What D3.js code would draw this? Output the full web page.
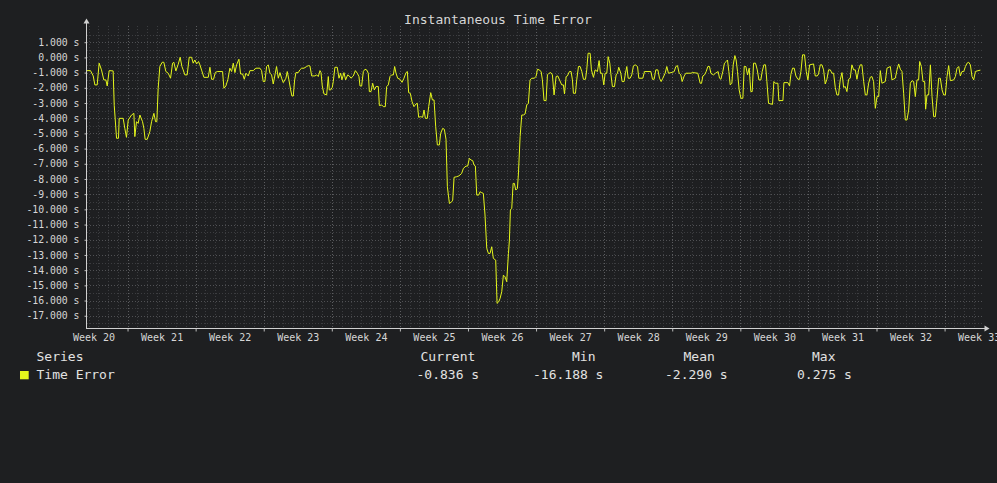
<!DOCTYPE html>
<html>
<head>
<meta charset="utf-8">
<script src="https://cdn.jsdelivr.net/npm/d3@7"></script>
<style>
  html, body { margin: 0; padding: 0; background: #1e1f21; }
  svg { display: block; font-family: "DejaVu Sans Mono", monospace; }
</style>
</head>
<body>
<svg id="chart" width="997" height="483"></svg>
<script>
const chartTitle = 'Instantaneous Time Error';
const seriesName = 'Time Error';
const weekNumbers = d3.range(20, 34);          // Week 20 .. Week 33
const yTickValues = d3.range(-17, 2);          // -17 s .. 1 s
const legendHeaders = ['Current', 'Min', 'Mean', 'Max'];
const legendValues = [-0.836, -16.188, -2.290, 0.275];

// [day since start of week 20, time error in s]
const timeError = [
  [2.78,-0.87],[3.19,-0.87],[3.47,-1.22],[3.64,-1.81],[3.88,-1.81],[4.08,-0.38],[4.32,-0.82],
  [4.56,-1.48],[4.77,-1.48],[4.91,-1.88],[5.11,-0.87],[5.52,-0.89],[5.63,-3.15],[5.87,-5.32],
  [6.07,-5.32],[6.14,-4.01],[6.55,-4.01],[6.72,-4.67],[6.89,-5.26],[7.07,-4.12],[7.41,-3.79],
  [7.65,-3.68],[7.75,-5.21],[7.92,-4.23],[8.09,-4.34],[8.27,-3.79],[8.54,-4.23],[8.68,-4.67],
  [8.81,-5.39],[9.02,-5.39],[9.29,-4.89],[9.47,-4.23],[9.71,-3.68],[9.88,-4.23],[10.01,-4.23],
  [10.15,-2.03],[10.32,-0.60],[10.56,-0.32],[10.73,-0.32],[10.94,-0.93],[11.18,-1.04],[11.42,-1.37],
  [11.63,-0.38],[11.76,-0.32],[11.97,-0.89],[12.21,-0.45],[12.41,0.01],[12.59,-0.60],[12.72,-0.82],
  [12.89,-1.15],[13.13,-1.15],[13.34,0.01],[13.58,0.01],[13.75,-0.38],[13.92,-0.17],[14.10,-0.43],
  [14.30,-0.27],[14.44,-0.49],[14.64,-0.89],[14.85,-1.31],[15.30,-1.31],[15.47,-0.65],[15.64,-1.44],
  [15.84,-1.44],[16.02,-1.00],[16.22,-0.93],[16.77,-0.93],[16.91,-2.03],[17.11,-1.88],[17.32,-1.44],
  [17.52,-0.71],[17.70,-0.93],[17.87,-0.38],[18.04,-1.00],[18.21,-0.49],[18.45,-0.12],[18.62,-1.09],
  [18.83,-1.09],[19.00,-1.44],[19.17,-1.04],[19.41,-1.22],[19.58,-0.87],[19.92,-0.87],[20.20,-0.71],
  [20.61,-0.71],[20.78,-0.87],[20.95,-1.59],[21.12,-1.59],[21.30,-0.60],[21.47,-0.49],[21.64,-1.04],
  [21.81,-1.15],[21.98,-1.75],[22.19,-1.04],[22.32,-0.60],[22.50,-1.37],[22.67,-1.00],[22.84,-1.37],
  [23.01,-1.66],[23.28,-1.37],[23.42,-0.93],[23.59,-1.48],[23.77,-2.14],[23.90,-2.54],[24.04,-2.54],
  [24.18,-1.48],[24.31,-1.00],[24.55,-1.00],[24.72,-0.82],[24.90,-0.71],[25.14,-0.71],[25.41,-0.60],
  [25.58,-0.54],[25.75,-0.56],[25.93,-1.22],[26.27,-1.22],[26.44,-1.15],[26.61,-1.26],[26.78,-0.87],
  [26.89,-1.00],[27.02,-1.88],[27.19,-2.40],[27.47,-2.47],[27.64,-1.26],[27.74,-2.14],[27.88,-2.14],
  [28.05,-1.97],[28.15,-1.59],[28.32,-0.65],[28.56,-0.65],[28.74,-1.37],[28.91,-1.04],[29.04,-1.48],
  [29.25,-1.00],[29.42,-1.48],[29.63,-1.15],[29.80,-1.22],[29.97,-1.37],[30.21,-1.22],[30.42,-0.87],
  [30.62,-1.04],[30.79,-1.26],[30.90,-1.88],[31.07,-1.88],[31.24,-0.93],[31.41,-0.78],[31.58,-0.82],
  [31.75,-1.04],[31.86,-2.25],[32.03,-2.25],[32.20,-1.70],[32.37,-2.14],[32.54,-1.92],[32.78,-1.92],
  [32.89,-3.17],[33.13,-3.13],[33.30,-3.24],[33.50,-3.24],[33.64,-1.92],[33.81,-1.81],[33.98,-1.26],
  [34.15,-1.15],[34.33,-1.15],[34.46,-0.60],[34.60,-1.04],[34.77,-1.37],[35.01,-1.44],[35.22,-1.64],
  [35.42,-1.37],[35.63,-1.00],[35.77,-0.93],[35.90,-2.32],[36.07,-2.36],[36.25,-2.91],[36.45,-3.24],
  [36.66,-3.06],[36.79,-3.02],[36.93,-3.94],[37.14,-3.90],[37.34,-3.94],[37.48,-3.46],[37.62,-4.01],
  [37.82,-4.01],[37.96,-3.24],[38.17,-2.32],[38.34,-2.80],[38.51,-2.80],[38.68,-4.56],[38.85,-5.76],
  [39.06,-5.76],[39.19,-5.00],[39.40,-4.67],[39.57,-4.73],[39.74,-5.39],[39.88,-8.51],[40.09,-9.61],
  [40.33,-9.50],[40.43,-9.39],[40.57,-7.89],[40.84,-7.85],[41.01,-7.81],[41.18,-7.74],[41.35,-7.63],
  [41.53,-7.30],[41.80,-7.15],[41.97,-7.15],[42.14,-6.64],[42.31,-6.75],[42.49,-6.80],[42.62,-7.08],
  [42.76,-7.15],[42.90,-9.06],[43.10,-9.06],[43.24,-8.84],[43.41,-8.90],[43.58,-8.95],[43.75,-10.37],
  [43.93,-12.57],[44.10,-12.90],[44.27,-12.90],[44.44,-12.46],[44.61,-13.23],[44.85,-13.34],[44.99,-16.188],
  [45.16,-16.08],[45.30,-15.86],[45.47,-15.42],[45.64,-14.33],[45.81,-14.44],[45.98,-14.76],[46.16,-12.90],
  [46.26,-12.02],[46.36,-10.04],[46.50,-9.93],[46.64,-8.29],[46.77,-8.29],[46.91,-8.73],[47.08,-8.62],
  [47.18,-7.74],[47.36,-5.21],[47.53,-3.79],[47.70,-3.79],[47.87,-3.72],[48.04,-3.13],[48.21,-3.02],
  [48.38,-1.48],[48.56,-1.37],[48.80,-1.37],[49.00,-1.26],[49.14,-0.78],[49.31,-0.82],[49.52,-0.93],
  [49.65,-1.48],[49.82,-2.84],[50.03,-2.84],[50.17,-1.15],[50.34,-1.04],[50.51,-1.00],[50.68,-1.15],
  [50.85,-2.47],[51.06,-1.26],[51.23,-1.22],[51.64,-1.81],[51.81,-1.81],[51.92,-2.40],[52.09,-1.26],
  [52.22,-1.22],[52.43,-0.93],[52.60,-0.93],[52.74,-1.48],[52.84,-2.36],[53.05,-2.36],[53.18,-1.48],
  [53.36,-0.60],[53.53,-0.60],[53.70,-0.93],[53.87,-1.44],[54.08,-1.44],[54.21,-0.82],[54.35,0.275],
  [54.56,0.27],[54.69,-0.82],[54.90,-1.31],[55.07,-0.82],[55.31,-0.93],[55.48,-0.21],[55.62,-1.04],
  [55.79,-1.04],[55.96,-1.81],[56.10,-1.04],[56.27,-1.04],[56.41,0.05],[56.58,-0.38],[56.68,-1.04],
  [56.85,-1.92],[57.06,-1.92],[57.23,-1.15],[57.37,-1.04],[57.50,-0.65],[57.71,-1.04],[57.85,-1.59],
  [58.05,-1.59],[58.19,-1.04],[58.33,-0.60],[58.47,-1.37],[58.67,-1.37],[58.84,-1.15],[59.01,-0.56],
  [59.19,-0.49],[59.43,-0.60],[59.56,-1.37],[59.97,-1.37],[60.15,-0.93],[60.80,-0.93],[60.97,-1.44],
  [61.14,-1.44],[61.31,-0.82],[61.52,-0.82],[61.69,-1.37],[61.86,-1.59],[62.03,-1.37],[62.27,-1.04],
  [62.44,-0.60],[62.61,-1.04],[63.03,-0.98],[63.20,-0.93],[63.37,-0.60],[63.54,-0.54],[63.71,-1.04],
  [63.88,-1.15],[64.02,-1.59],[64.23,-1.22],[64.40,-1.04],[64.91,-1.04],[65.12,-1.00],[65.63,-1.04],
  [65.87,-1.70],[66.01,-1.70],[66.15,-1.22],[66.32,-1.15],[66.49,-0.93],[66.66,-0.60],[66.83,-0.60],
  [66.97,-1.04],[67.24,-1.15],[67.45,-1.04],[67.72,-0.93],[67.86,-1.37],[68.00,-1.44],[68.20,-0.93],
  [68.37,-0.38],[68.55,-0.27],[68.68,-0.17],[68.82,-0.93],[68.96,-1.81],[69.13,-1.70],[69.27,-0.49],
  [69.44,0.12],[69.57,-0.17],[69.71,-0.93],[69.88,-2.14],[70.06,-2.69],[70.26,-2.69],[70.40,-0.60],
  [70.57,-0.60],[70.74,-1.15],[70.91,-0.71],[71.08,-2.25],[71.22,-2.25],[71.36,-0.38],[71.56,-0.38],
  [71.74,-0.82],[71.91,-1.48],[72.11,-1.48],[72.25,-0.93],[72.42,-0.49],[72.59,-0.49],[72.73,-1.59],
  [72.90,-3.02],[73.31,-3.09],[73.45,-1.59],[73.59,-1.70],[73.86,-1.70],[73.96,-2.84],[74.38,-2.84],
  [74.48,-1.66],[74.89,-1.66],[75.06,-1.88],[75.20,-1.11],[75.37,-0.71],[75.54,-0.71],[75.71,-1.22],
  [75.92,-1.44],[76.09,-1.44],[76.23,-0.93],[76.40,0.17],[76.60,0.17],[76.78,-0.93],[76.95,-1.48],
  [77.12,-0.49],[77.53,-0.43],[77.70,-1.22],[77.91,-1.22],[78.04,-1.09],[78.22,-0.49],[78.39,-0.49],
  [78.56,-0.82],[78.73,-1.75],[78.90,-1.44],[79.07,-0.82],[79.25,-0.82],[79.42,-1.04],[79.59,-1.04],
  [79.76,-1.97],[79.93,-2.47],[80.10,-2.47],[80.27,-1.48],[80.45,-1.00],[80.62,-1.97],[80.79,-1.92],
  [80.96,-2.25],[81.13,-1.44],[81.30,-1.37],[81.47,-0.49],[81.65,-0.82],[81.82,-0.82],[81.99,-1.44],
  [82.16,-0.82],[82.33,-0.49],[82.50,-0.49],[82.68,-1.59],[82.85,-2.47],[83.02,-2.47],[83.19,-1.70],
  [83.36,-1.31],[83.53,-1.26],[83.70,-1.59],[83.88,-3.35],[84.05,-2.58],[84.22,-2.58],[84.39,-0.87],
  [84.56,-1.70],[84.90,-1.59],[85.08,-0.71],[85.42,-0.60],[85.59,-1.48],[85.93,-1.37],[86.11,-0.82],
  [86.28,-0.43],[86.45,-0.78],[86.62,-0.93],[86.79,-2.36],[86.96,-4.12],[87.13,-4.12],[87.31,-3.46],
  [87.48,-1.70],[87.65,-1.53],[87.82,-1.59],[87.99,-2.58],[88.16,-1.48],[88.33,-1.48],[88.44,-0.27],
  [88.61,-0.60],[88.78,-1.59],[88.95,-1.59],[89.05,-3.41],[89.19,-2.47],[89.36,-2.47],[89.54,-0.49],
  [89.71,-2.58],[89.88,-3.90],[90.05,-3.90],[90.22,-2.69],[90.39,-1.37],[90.56,-1.37],[90.74,-2.14],
  [90.91,-2.47],[91.08,-2.47],[91.25,-1.26],[91.42,-0.54],[91.59,-1.53],[91.94,-1.48],[92.11,-1.26],
  [92.28,-0.71],[92.45,-0.60],[92.62,-1.22],[92.79,-0.93],[92.97,-0.93],[93.14,-0.60],[93.31,-0.38],
  [93.48,-0.32],[93.65,-0.49],[93.82,-1.26],[93.99,-1.48],[94.17,-0.93],[94.34,-0.89],[94.68,-0.836]
];

const W = 997, H = 483;
const plot = {left: 86.5, right: 983.5, top: 25.5, bottom: 328.5};
const lineColor = '#e4f61c';
const textColor = '#d6d6d6';

const svg = d3.select('#chart');
svg.append('rect').attr('width', W).attr('height', H).attr('fill', '#1e1f21');

const x = d3.scaleLinear().domain([2.78, 95.0]).range([plot.left, plot.right]);
const y = d3.scaleLinear().domain([-17.84, 2.1]).range([plot.bottom, plot.top]);

// grid: days (minor) / weeks (major), half seconds (minor) / seconds (major)
const weekStarts = d3.range(7, 95, 7);
const dayLines = d3.range(3, 95).filter(d => d % 7 !== 0);
const grid = svg.append('g').attr('shape-rendering', 'crispEdges');

grid.selectAll('.vminor').data(dayLines).join('line')
  .attr('x1', d => Math.round(x(d)) + 0.5).attr('x2', d => Math.round(x(d)) + 0.5)
  .attr('y1', plot.top).attr('y2', plot.bottom)
  .attr('stroke', '#3c3d40').attr('stroke-dasharray', '1,2');
grid.selectAll('.hminor').data(d3.range(-17.5, 2, 1)).join('line')
  .attr('x1', plot.left).attr('x2', plot.right)
  .attr('y1', d => Math.round(y(d)) + 0.5).attr('y2', d => Math.round(y(d)) + 0.5)
  .attr('stroke', '#3c3d40').attr('stroke-dasharray', '1,2');
grid.selectAll('.hmajor').data(yTickValues).join('line')
  .attr('x1', plot.left).attr('x2', plot.right)
  .attr('y1', d => Math.round(y(d)) + 0.5).attr('y2', d => Math.round(y(d)) + 0.5)
  .attr('stroke', '#505154').attr('stroke-dasharray', '1,2');
grid.selectAll('.vmajor').data(weekStarts).join('line')
  .attr('x1', d => Math.round(x(d)) + 0.5).attr('x2', d => Math.round(x(d)) + 0.5)
  .attr('y1', plot.top).attr('y2', plot.bottom)
  .attr('stroke', '#5c5d60').attr('stroke-dasharray', '1,2');

// series
const line = d3.line().x(d => x(d[0])).y(d => y(d[1]));
svg.append('path').datum(timeError)
  .attr('d', line)
  .attr('fill', 'none')
  .attr('stroke', lineColor)
  .attr('stroke-width', 1)
  .attr('stroke-linejoin', 'round');

// y axis
const yAxis = svg.append('g').attr('transform', `translate(${plot.left},0)`)
  .call(d3.axisLeft(y).tickValues(yTickValues).tickSize(2).tickPadding(5)
    .tickFormat(d => d.toFixed(3) + ' s'))
  .call(g => g.select('.domain').remove());
yAxis.selectAll('line').attr('stroke', '#bbbbbb');
yAxis.selectAll('text').attr('fill', textColor)
  .attr('font-family', '"DejaVu Sans Mono", monospace').attr('font-size', 9.8);

// x axis: week boundary ticks and centred week labels
svg.append('g').attr('transform', `translate(0,${plot.bottom})`)
  .call(d3.axisBottom(x).tickValues(weekStarts).tickSize(3).tickFormat(''))
  .call(g => g.select('.domain').remove())
  .selectAll('line').attr('stroke', '#bbbbbb');

const xLabels = svg.append('g').attr('transform', `translate(0,${plot.bottom})`)
  .call(d3.axisBottom(x).tickValues(weekNumbers.map((w, i) => i * 7 + 3.5))
    .tickSize(0).tickPadding(5.5).tickFormat((d, i) => 'Week ' + weekNumbers[i]))
  .call(g => g.select('.domain').remove());
xLabels.selectAll('text').attr('fill', textColor)
  .attr('font-family', '"DejaVu Sans Mono", monospace').attr('font-size', 10);

// axis lines with arrows
const axisColor = '#d0d0d0';
svg.append('path')
  .attr('d', `M${plot.left},${plot.bottom} V${plot.top - 3}`)
  .attr('stroke', axisColor).attr('shape-rendering', 'crispEdges');
svg.append('path')
  .attr('d', `M${plot.left},${plot.bottom} H${plot.right + 2}`)
  .attr('stroke', axisColor).attr('shape-rendering', 'crispEdges');
svg.append('path')
  .attr('d', `M${plot.left - 3},${plot.top - 2} L${plot.left},${plot.top - 7} L${plot.left + 3},${plot.top - 2} Z`)
  .attr('fill', axisColor);
svg.append('path')
  .attr('d', `M${plot.right + 1},${plot.bottom - 3} L${plot.right + 6},${plot.bottom} L${plot.right + 1},${plot.bottom + 3} Z`)
  .attr('fill', axisColor);

// title
svg.append('text')
  .attr('x', 498).attr('y', 23.5)
  .attr('text-anchor', 'middle')
  .attr('fill', textColor)
  .attr('font-size', 13)
  .text(chartTitle);

// legend
const legend = svg.append('g').attr('font-size', 13).attr('fill', '#e2e2e2');
const headerX = [420.5, 572, 683.5, 812];
const valueX = [416.5, 533, 665, 797];
legend.append('text').attr('x', 36.5).attr('y', 361).text('Series');
legend.append('rect').attr('x', 20).attr('y', 371).attr('width', 8.7).attr('height', 8.3)
  .attr('fill', lineColor);
legend.append('text').attr('x', 36.5).attr('y', 379).text(seriesName);
legend.selectAll('.hdr').data(legendHeaders).join('text')
  .attr('x', (d, i) => headerX[i]).attr('y', 361).text(d => d);
legend.selectAll('.val').data(legendValues).join('text')
  .attr('x', (d, i) => valueX[i]).attr('y', 379).text(d => d.toFixed(3) + ' s');
</script>
</body>
</html>
